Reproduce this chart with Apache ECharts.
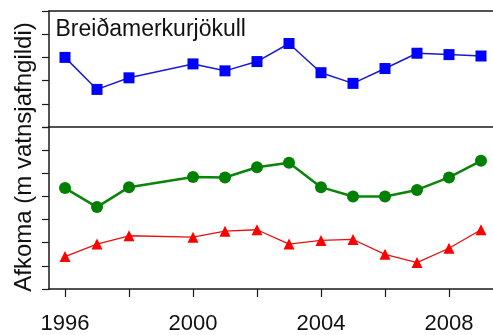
<!DOCTYPE html>
<html>
<head>
<meta charset="utf-8">
<script src="https://cdn.jsdelivr.net/npm/echarts@6/dist/echarts.min.js"></script>
<style>
  html, body { margin: 0; padding: 0; background: #fff; }
  #chart { width: 493px; height: 335px; }
</style>
</head>
<body>
<div id="chart"></div>
<script>
// Years with measurements (1999 is missing)
const years = [1996, 1997, 1998, 2000, 2001, 2002, 2003, 2004, 2005, 2006, 2007, 2008, 2009];
// Winter balance (m w.e.)
const winterBalance = [1.50, 0.81, 1.06, 1.36, 1.21, 1.41, 1.80, 1.17, 0.94, 1.26, 1.59, 1.56, 1.53];
// Net balance (m w.e.)
const netBalance = [-1.32, -1.73, -1.30, -1.08, -1.09, -0.87, -0.77, -1.30, -1.50, -1.50, -1.36, -1.09, -0.73];
// Summer balance (m w.e.)
const summerBalance = [-2.80, -2.53, -2.35, -2.38, -2.25, -2.22, -2.53, -2.45, -2.43, -2.75, -2.93, -2.62, -2.22];
// Axis tick positions
const xTickYears = [1996, 1998, 2000, 2002, 2004, 2006, 2008];
const xLabelYears = [1996, 2000, 2004, 2008];

const pairs = vals => years.map((y, i) => [y, vals[i]]);
const font = '"Liberation Sans", Arial, sans-serif';
const axisColor = '#1a1a1a';

const chart = echarts.init(document.getElementById('chart'), null, { renderer: 'canvas' });

// The plot is open on the right: only left, top, middle and bottom rules are drawn
const xBase = {
  type: 'value', min: 1995.5, max: 2009.375,
  splitLine: { show: false },
  axisLine: { show: true, onZero: false, lineStyle: { color: axisColor, width: 1.5 } }
};
const yBase = {
  type: 'value', interval: 0.5,
  splitLine: { show: false },
  axisLabel: { show: false },
  axisLine: { show: true, lineStyle: { color: axisColor, width: 1.5 } },
  axisTick: { show: true, length: 7, lineStyle: { color: axisColor, width: 1.2 } }
};

chart.setOption({
  animation: false,
  grid: [
    { left: 49, top: 11, width: 444, height: 116 },
    { left: 49, top: 127, width: 444, height: 162 }
  ],
  xAxis: [
    Object.assign({}, xBase, { gridIndex: 0, position: 'top', axisTick: { show: false }, axisLabel: { show: false } }),
    Object.assign({}, xBase, {
      gridIndex: 1, position: 'top', axisTick: { show: false }, axisLabel: { show: false }
    }),
    Object.assign({}, xBase, {
      gridIndex: 1, position: 'bottom',
      axisTick: { show: true, length: 8, customValues: xTickYears, lineStyle: { color: axisColor, width: 1.2 } },
      axisLabel: { show: true, customValues: xLabelYears, margin: 24, fontSize: 22, color: '#111', fontFamily: font,
                   formatter: v => String(v) }
    })
  ],
  yAxis: [
    Object.assign({}, yBase, { gridIndex: 0, min: 0, max: 2.5 }),
    Object.assign({}, yBase, { gridIndex: 1, min: -3.5, max: 0 })
  ],
  graphic: [
    {
      type: 'text', left: 55.5, top: 18,
      style: { text: 'Breiðamerkurjökull', font: '23px ' + font, fill: '#111' }
    },
    {
      type: 'text', x: 24, y: 157, rotation: Math.PI / 2,
      style: { text: 'Afkoma (m vatnsjafngildi)', font: '24px ' + font, fill: '#111', align: 'center', verticalAlign: 'middle' }
    }
  ],
  series: [
    {
      type: 'line', xAxisIndex: 0, yAxisIndex: 0, data: pairs(winterBalance),
      symbol: 'rect', symbolSize: 11, color: '#0000ff',
      lineStyle: { width: 1.5, color: '#1a1ad6' }, itemStyle: { color: '#0000ff' }
    },
    {
      type: 'line', xAxisIndex: 2, yAxisIndex: 1, data: pairs(netBalance),
      symbol: 'circle', symbolSize: 12, color: '#008000',
      lineStyle: { width: 2.5, color: '#0a850a' }, itemStyle: { color: '#008000' }
    },
    {
      type: 'line', xAxisIndex: 2, yAxisIndex: 1, data: pairs(summerBalance),
      symbol: 'triangle', symbolSize: 11, color: '#ff0000',
      lineStyle: { width: 1.3, color: '#e81010' }, itemStyle: { color: '#ff0000' }
    }
  ]
});
</script>
</body>
</html>
